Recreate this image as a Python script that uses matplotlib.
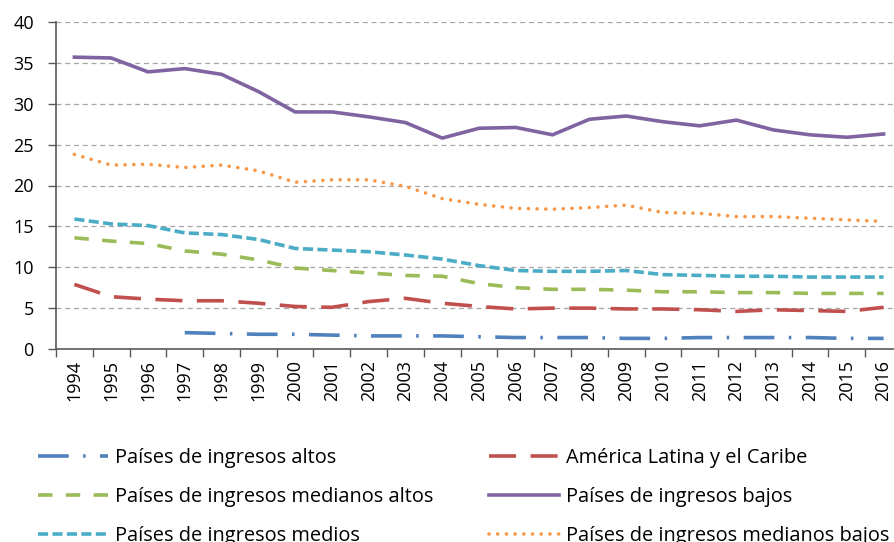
import numpy as np
import matplotlib
matplotlib.use("Agg")
import matplotlib.pyplot as plt
from matplotlib.ticker import FixedLocator

plt.rcParams['font.family'] = ['Open Sans', 'DejaVu Sans']

years = [str(y) for y in range(1994, 2017)]

altos = [np.nan, np.nan, np.nan, 2.0, 1.9, 1.8, 1.8, 1.7, 1.6, 1.6, 1.6, 1.5,
         1.4, 1.4, 1.4, 1.3, 1.3, 1.4, 1.4, 1.4, 1.4, 1.3, 1.3]
alc = [7.9, 6.4, 6.1, 5.9, 5.9, 5.6, 5.2, 5.1, 5.8, 6.2, 5.6, 5.2,
       4.9, 5.0, 5.0, 4.9, 4.9, 4.8, 4.6, 4.8, 4.7, 4.6, 5.1]
med_altos = [13.6, 13.2, 12.9, 12.0, 11.6, 10.9, 9.9, 9.6, 9.3, 9.0, 8.9, 8.0,
             7.5, 7.3, 7.3, 7.2, 7.0, 7.0, 6.9, 6.9, 6.8, 6.8, 6.8]
bajos = [35.7, 35.6, 33.9, 34.3, 33.6, 31.5, 29.0, 29.0, 28.4, 27.7, 25.8, 27.0,
         27.1, 26.2, 28.1, 28.5, 27.8, 27.3, 28.0, 26.8, 26.2, 25.9, 26.3]
medios = [15.9, 15.3, 15.1, 14.2, 14.0, 13.4, 12.3, 12.1, 11.9, 11.5, 11.0, 10.2,
          9.6, 9.5, 9.5, 9.6, 9.1, 9.0, 8.9, 8.9, 8.8, 8.8, 8.8]
med_bajos = [23.8, 22.5, 22.6, 22.2, 22.5, 21.8, 20.4, 20.7, 20.7, 19.9, 18.4, 17.7,
             17.2, 17.1, 17.3, 17.6, 16.7, 16.6, 16.2, 16.2, 16.0, 15.8, 15.6]

fig = plt.figure(figsize=(8.94, 5.42), dpi=100)
ax = fig.add_axes([56 / 894, 1 - 349 / 542, 846 / 894, 327 / 542])

x = np.arange(len(years))
lw = 2.6

l_altos, = ax.plot(x, altos, color='#4F81BD', lw=lw, dashes=(8.5, 4, 0.7, 4),
                   label='Países de ingresos altos')
l_alc, = ax.plot(x, alc, color='#C0504D', lw=lw, dashes=(7.5, 4),
                 label='América Latina y el Caribe')
l_ma, = ax.plot(x, med_altos, color='#9BBB59', lw=lw, dashes=(4, 3.7),
                label='Países de ingresos medianos altos')
l_bajos, = ax.plot(x, bajos, color='#8064A2', lw=lw, solid_joinstyle='round',
                   label='Países de ingresos bajos')
l_medios, = ax.plot(x, medios, color='#4BACC6', lw=lw, dashes=(2.8, 1.2),
                    label='Países de ingresos medios')
l_mb, = ax.plot(x, med_bajos, color='#F79646', lw=lw, dashes=(0.01, 2.4),
                dash_capstyle='round', label='Países de ingresos medianos bajos')

ax.set_ylim(0, 40)
ax.set_xlim(-0.5, len(years) - 0.5)
ax.set_yticks(range(0, 41, 5))
ax.yaxis.grid(True, color='#A6A6A6', linestyle=(0, (4, 3)), linewidth=0.9)
ax.set_axisbelow(True)

ax.xaxis.set_major_locator(FixedLocator(np.arange(-0.5, len(years), 1.0)))
ax.xaxis.set_major_formatter(plt.NullFormatter())
ax.xaxis.set_minor_locator(FixedLocator(x))
ax.set_xticklabels(years, minor=True, rotation=90)
ax.tick_params(axis='x', which='major', length=6, width=1, color='#595959')
ax.tick_params(axis='x', which='minor', length=0, pad=8, labelsize=13)
ax.tick_params(axis='y', length=6, width=1, color='#595959', pad=10, labelsize=13)

for s in ['top', 'right']:
    ax.spines[s].set_visible(False)
for s in ['left', 'bottom']:
    ax.spines[s].set_color('#595959')
    ax.spines[s].set_linewidth(1.2)

handles = [l_altos, l_ma, l_medios, l_alc, l_bajos, l_mb]
fig.legend(handles=handles, loc='upper left', bbox_to_anchor=(20 / 894, 1 - 430 / 542),
           ncol=2, frameon=False, fontsize=14.4, handlelength=3.5,
           handletextpad=0.35, labelspacing=0.95, columnspacing=2.8)

fig.savefig('out.png', dpi=100)
